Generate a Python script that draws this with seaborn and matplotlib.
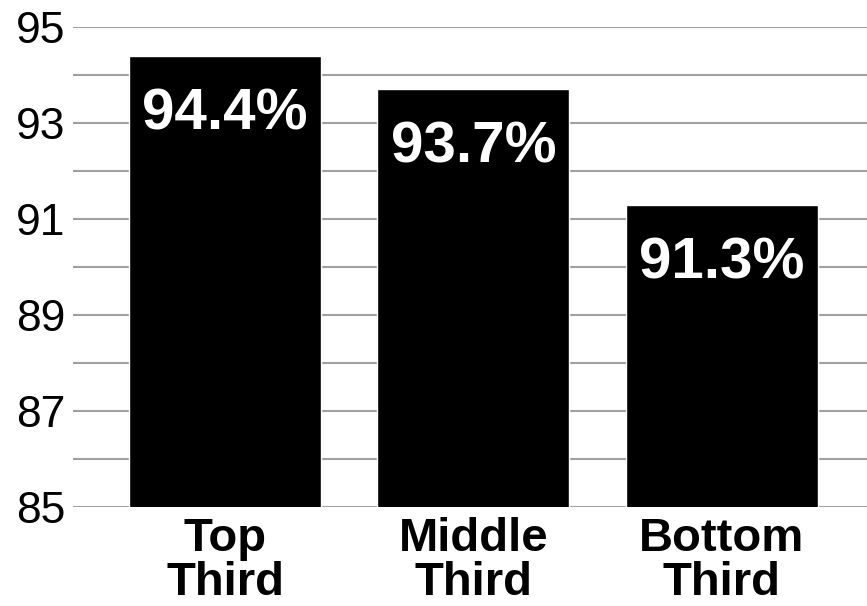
import matplotlib.pyplot as plt
import seaborn as sns
import numpy as np
import pandas as pd

# data
groups = ["Top\nThird", "Middle\nThird", "Bottom\nThird"]
rates = [94.4, 93.7, 91.3]
rate_labels = ["94.4%", "93.7%", "91.3%"]
major_ticks = [85, 87, 89, 91, 93, 95]
minor_ticks = [86, 88, 90, 92, 94]

sns.set_style("white")
plt.rcParams['font.family'] = ['Liberation Sans', 'DejaVu Sans']

fig = plt.figure(figsize=(8.67, 6.06), dpi=100)
ax = fig.add_axes([0.0842, 0.1634, 0.9158, 0.7920])

df = pd.DataFrame({"group": groups, "rate": rates})
sns.barplot(data=df, x="group", y="rate", color="black", saturation=1,
            width=0.773, errorbar=None, ax=ax, zorder=3)

ax.set_ylim(85, 95)
ax.set_xlim(-0.612, 2.584)
ax.set_yticks(major_ticks)
ax.set_yticks(minor_ticks, minor=True)
ax.grid(True, axis="y", which="both", color="#a0a0a0", linewidth=1.5, zorder=0)
ax.set_axisbelow(True)
for s in ax.spines.values():
    s.set_visible(False)

ax.tick_params(axis="y", which="both", length=0, labelsize=32, pad=5.5,
               labelcolor="black")
ax.tick_params(axis="x", length=0, pad=7, labelcolor="black")
for t in ax.get_xticklabels():
    t.set_fontsize(34)
    t.set_fontweight("bold")
    t.set_linespacing(1.0)
ax.set_xlabel("")
ax.set_ylabel("")

for i, (v, lab) in enumerate(zip(rates, rate_labels)):
    ax.text(i, v - 1.53, lab, ha="center", va="baseline", color="white",
            fontsize=42, fontweight="bold", zorder=4)

fig.savefig("out.png", dpi=100)
